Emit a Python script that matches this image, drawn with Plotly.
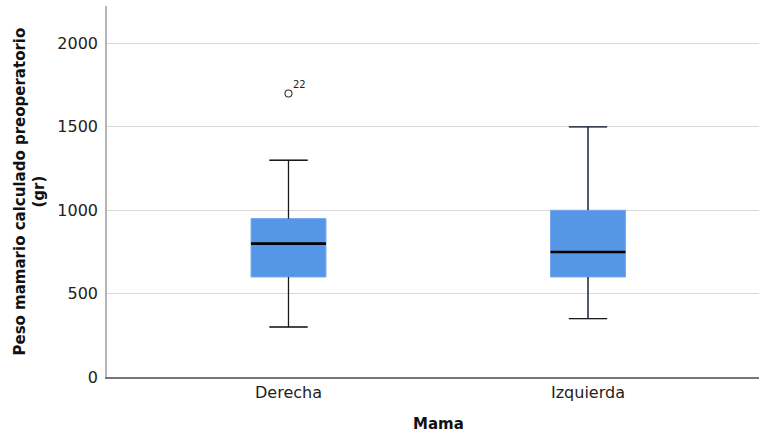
import plotly.graph_objects as go

# Summary statistics for preoperative breast weight (gr) by side
categories = ["Derecha", "Izquierda"]
q1_vals = [600, 600]
median_vals = [800, 750]
q3_vals = [950, 1000]
lower_whisker = [300, 350]
upper_whisker = [1300, 1500]

# Outlying cases: category, value, case number
outlier_cats = ["Derecha"]
outlier_vals = [1700]
outlier_ids = ["22"]

y_ticks = [0, 500, 1000, 1500, 2000]

BOX_FILL = "#5596e6"
BOX_EDGE = "#72a9ec"
INK = "#1a1a1a"
BOX_HALF = 0.125
CAP_HALF = 0.064

positions = list(range(len(categories)))

fig = go.Figure()

# Boxes from the quartiles and fences
for pos, cat, a, m, b, lo, hi in zip(positions, categories, q1_vals, median_vals,
                                    q3_vals, lower_whisker, upper_whisker):
    fig.add_trace(go.Box(
        x=[pos], q1=[a], median=[m], q3=[b], lowerfence=[lo], upperfence=[hi],
        name=cat, width=2 * BOX_HALF, whiskerwidth=CAP_HALF / BOX_HALF,
        fillcolor=BOX_FILL, line=dict(color=BOX_EDGE, width=1),
        boxpoints=False, hoverinfo="skip", showlegend=False,
    ))

# Black whiskers with end caps
wx, wy = [], []
for pos, a, b, lo, hi in zip(positions, q1_vals, q3_vals, lower_whisker, upper_whisker):
    wx += [pos, pos, None, pos - CAP_HALF, pos + CAP_HALF, None,
           pos, pos, None, pos - CAP_HALF, pos + CAP_HALF, None]
    wy += [lo, a, None, lo, lo, None, b, hi, None, hi, hi, None]
fig.add_trace(go.Scatter(x=wx, y=wy, mode="lines", line=dict(color=INK, width=1.3),
                         hoverinfo="skip", showlegend=False))

# Median lines
mx, my = [], []
for pos, m in zip(positions, median_vals):
    mx += [pos - BOX_HALF, pos + BOX_HALF, None]
    my += [m, m, None]
fig.add_trace(go.Scatter(x=mx, y=my, mode="lines", line=dict(color="#000000", width=2.6),
                         hoverinfo="skip", showlegend=False))

# Outliers with their case labels
ox = [categories.index(c) for c in outlier_cats]
fig.add_trace(go.Scatter(
    x=ox, y=outlier_vals, mode="markers",
    marker=dict(symbol="circle-open", size=7, color="#333333", line=dict(width=1.1)),
    hoverinfo="skip", showlegend=False,
))
for x, y, label in zip(ox, outlier_vals, outlier_ids):
    fig.add_annotation(x=x, y=y, text=label, showarrow=False, xanchor="left",
                       yanchor="bottom", xshift=3, yshift=2,
                       font=dict(family="DejaVu Sans", size=10, color="#222222"))

# Axis titles
fig.add_annotation(xref="paper", yref="paper", x=-0.1196, y=0.5,
                   text="<b>Peso mamario calculado preoperatorio</b><br><b>(gr)</b>",
                   textangle=-90, showarrow=False, xanchor="center", yanchor="middle",
                   font=dict(family="DejaVu Sans", size=15, color="#111111"))
fig.add_annotation(xref="paper", yref="paper", x=0.509, y=-0.1255,
                   text="<b>Mama</b>", showarrow=False, xanchor="center", yanchor="middle",
                   font=dict(family="DejaVu Sans", size=15, color="#111111"))

fig.update_layout(
    width=759, height=434,
    margin=dict(l=107, r=0, t=6, b=57),
    paper_bgcolor="white", plot_bgcolor="white",
    font=dict(family="DejaVu Sans", size=16, color="#222222"),
    xaxis=dict(
        range=[-0.606, 1.571], tickvals=positions, ticktext=categories,
        showgrid=False, zeroline=False, showline=True, linecolor="#777777", linewidth=1.5,
        ticks="", fixedrange=True,
    ),
    yaxis=dict(
        range=[0, 2225], tickvals=y_ticks, showgrid=True, gridcolor="#d9d9d9", gridwidth=1,
        zeroline=False, showline=True, linecolor="#b5b5b5", linewidth=1.5,
        ticks="", ticklabelstandoff=4, fixedrange=True,
    ),
)

fig.write_html("out.html")
